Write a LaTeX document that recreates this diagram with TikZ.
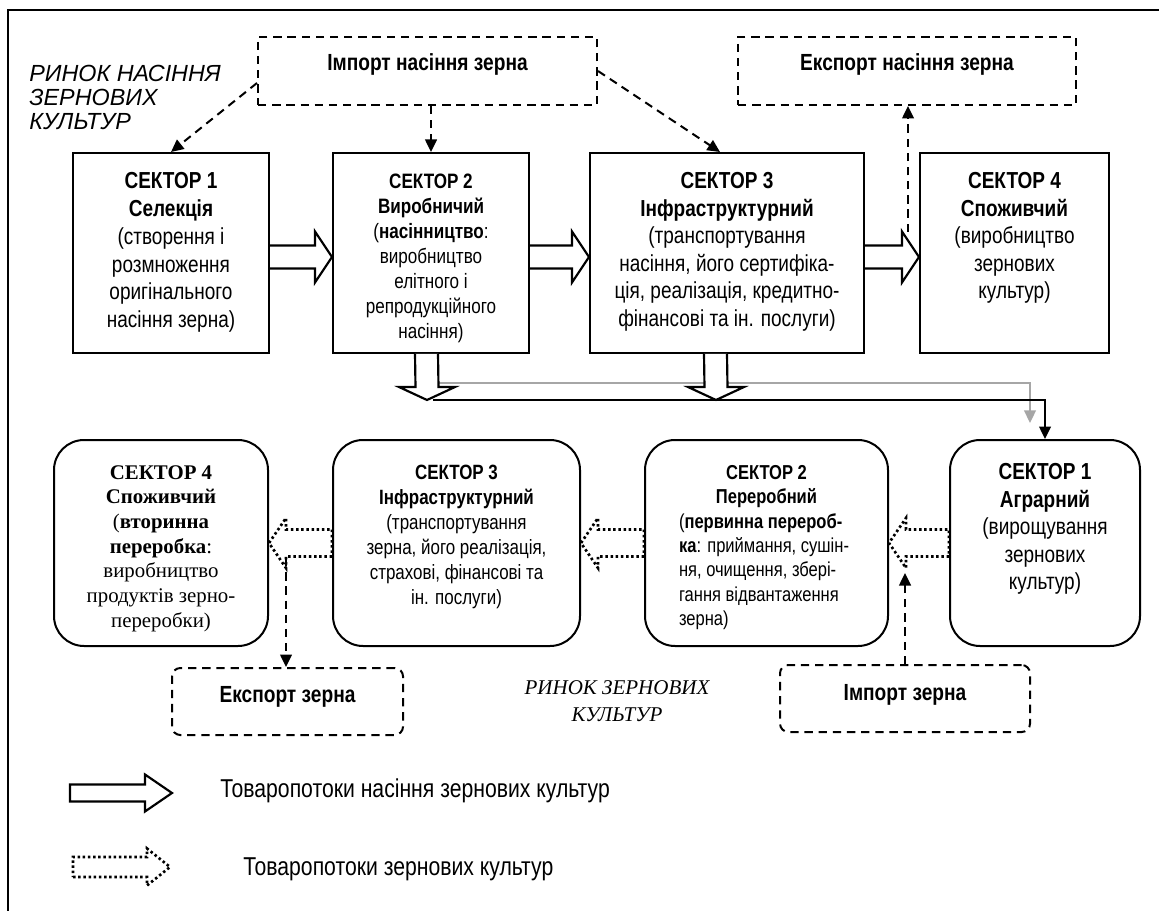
\documentclass[tikz,border=0pt]{standalone}
\usepackage{fontspec}
\setmainfont{Liberation Sans}
\newfontfamily\narrowfont{Liberation Sans}[FakeStretch=0.82]
\newfontfamily\timesfont{Liberation Serif}
\usepackage{xcolor}
\usepackage{tikz}
\usetikzlibrary{calc}
\usetikzlibrary{arrows.meta}
\definecolor{C7}{HTML}{A6A6A6}
\newcommand{\flowh}[7]{\draw[#1] ($(#2)+(0,#4)$) -- ($(#3)+(#6,#4)$) -- ($(#3)+(#6,#5)$) -- (#3) -- ($(#3)+(#6,-#5)$) -- ($(#3)+(#6,-#4)$) -- ($(#2)+(0,-#4)$) #7;}
\newcommand{\flowv}[7]{\draw[#1] ($(#2)+(#4,0)$) -- ($(#3)+(#4,#6)$) -- ($(#3)+(#5,#6)$) -- (#3) -- ($(#3)+(-#5,#6)$) -- ($(#3)+(-#4,#6)$) -- ($(#2)+(-#4,0)$) #7;}

\begin{document}
\begin{tikzpicture}[x=0.6pt, y=-0.6pt, >={Triangle[length=7.5pt,width=7pt]},
  sbox/.style={draw, line width=1.2pt, inner sep=0pt},
  rbox/.style={sbox, rounded corners=18pt},
  dbox/.style={draw, line width=1.2pt, dash pattern=on 5pt off 3.5pt, inner sep=0pt, font=\narrowfont\fontsize{14}{16}\selectfont\bfseries},
  txt/.style={align=center, inner sep=0pt, anchor=north},
  dline/.style={->, line width=1.2pt, dash pattern=on 5pt off 3.5pt},
  hollow/.style={line width=1.3pt},
  dotline/.style={line width=1.6pt, dash pattern=on 1.5pt off 1.6pt}]
\useasboundingbox (0,0) rectangle (1159,911);
\draw[line width=1.2pt] (8,911) -- (8,10) -- (1159,10);

\node[anchor=north west, align=left, inner sep=0pt, font=\fontsize{14}{14.4}\selectfont\itshape] (title) at (29,65) {РИНОК НАСІННЯ\\ЗЕРНОВИХ\\КУЛЬТУР};
\node[dbox, minimum width=203.4pt, minimum height=40.8pt, text depth=11pt] (imps) at (427.5,71) {Імпорт насіння зерна};
\node[dbox, minimum width=202.8pt, minimum height=40.8pt, text depth=11pt] (exps) at (907,71) {Експорт насіння зерна};

\node[sbox, minimum width=117.6pt, minimum height=120pt] (s1) at (171,253) {};
\node[sbox, minimum width=117.6pt, minimum height=120pt] (s2) at (431,253) {};
\node[sbox, minimum width=164.4pt, minimum height=120pt] (s3) at (727,253) {};
\node[sbox, minimum width=113.4pt, minimum height=120pt] (s4) at (1014.5,253) {};
\node[txt, font=\narrowfont\fontsize{13.9}{16.7}\selectfont] (s1t) at (171,172) {\textbf{СЕКТОР 1}\\\textbf{Селекція}\\(створення і\\розмноження\\оригінального\\насіння зерна)};
\node[txt, font=\narrowfont\fontsize{12.5}{15}\selectfont] (s2t) at (431,174) {\textbf{СЕКТОР 2}\\\textbf{Виробничий}\\(\textbf{насінництво}:\\виробництво\\елітного і\\репродукційного\\насіння)};
\node[txt, font=\narrowfont\fontsize{13.9}{16.5}\selectfont] (s3t) at (727,172) {\textbf{СЕКТОР 3}\\\textbf{Інфраструктурний}\\(транспортування\\насіння, його сертифіка-\\ція, реалізація, кредитно-\\фінансові та ін. послуги)};
\node[txt, font=\narrowfont\fontsize{13.9}{16.5}\selectfont] (s4t) at (1014.5,172) {\textbf{СЕКТОР 4}\\\textbf{Споживчий}\\(виробництво\\зернових\\культур)};

\node[rbox, minimum width=128.4pt, minimum height=123.6pt] (l4) at (161,543) {};
\node[rbox, minimum width=148.2pt, minimum height=123.6pt] (l3) at (456.5,543) {};
\node[rbox, minimum width=145.8pt, minimum height=123.6pt] (l2) at (766.5,543) {};
\node[rbox, minimum width=114pt, minimum height=123.6pt] (l1) at (1045,543) {};
\node[txt, font=\timesfont\fontsize{12.5}{14.8}\selectfont] (l4t) at (161,465) {\textbf{СЕКТОР 4}\\\textbf{Споживчий}\\(\textbf{вторинна}\\\textbf{переробка}:\\виробництво\\продуктів зерно-\\переробки)};
\node[txt, font=\narrowfont\fontsize{12.4}{15}\selectfont] (l3t) at (456.5,465) {\textbf{СЕКТОР 3}\\\textbf{Інфраструктурний}\\(транспортування\\зерна, його реалізація,\\страхові, фінансові та\\ін. послуги)};
\node[txt, font=\narrowfont\fontsize{12.1}{14.6}\selectfont] (l2t) at (766.5,465) {\textbf{СЕКТОР 2}\\\textbf{Переробний}\\\makebox[105pt][l]{(\textbf{первинна перероб-}}\\\makebox[105pt][l]{\textbf{ка}: приймання, сушін-}\\\makebox[105pt][l]{ня, очищення, збері-}\\\makebox[105pt][l]{гання відвантаження}\\\makebox[105pt][l]{зерна)}};
\node[txt, font=\narrowfont\fontsize{13.9}{16.5}\selectfont] (l1t) at (1045,463) {\textbf{СЕКТОР 1}\\\textbf{Аграрний}\\(вирощування\\зернових\\культур)};

\node[dbox, rounded corners=5pt, minimum width=138.6pt, minimum height=40.2pt, text depth=8pt] (expg) at (287.5,701.5) {Експорт зерна};
\node[dbox, rounded corners=5pt, minimum width=150pt, minimum height=40.2pt, text depth=7pt] (impg) at (905,698.5) {Імпорт зерна};
\node[align=center, inner sep=0pt, font=\timesfont\itshape\fontsize{12.6}{16}\selectfont] (rzk) at (617,701) {РИНОК ЗЕРНОВИХ\\КУЛЬТУР};

\draw[dline] ([yshift=-7.2pt]imps.west) -- (s1.north);
\draw[dline] (imps.south -| s2.north) -- (s2.north);
\draw[dline] (imps.east) -- ([xshift=-4.2pt]s3.north);
\coordinate (e4) at (908,232);
\draw[dline] (e4) -- (e4 |- exps.south);

\coordinate (a1) at ([yshift=-2.4pt]s1.east);
\coordinate (a2) at ([yshift=-2.4pt]s2.west);
\coordinate (a3) at ([yshift=-2.4pt]s2.east);
\coordinate (a4) at ([yshift=-2.4pt]s3.west);
\coordinate (a5) at ([yshift=-2.4pt]s3.east);
\coordinate (a6) at ([yshift=-2.4pt]s4.west);
\flowh{hollow}{a1}{a2}{11.5}{25.5}{-17}{}
\flowh{hollow}{a3}{a4}{11.5}{25.5}{-17}{}
\flowh{hollow}{a5}{a6}{11.5}{25.5}{-17}{}

\coordinate (g0) at (418,383);
\coordinate (g1) at (1030,423);
\draw[->, C7, line width=1pt] (g0) -| (g1);
\coordinate (b0) at (433,400);
\draw[->, line width=1.2pt] (b0) -| (l1.north);

\coordinate (d1) at ([xshift=-2.7pt]s2.south);
\coordinate (d2) at (427,400);
\coordinate (d3) at ([xshift=-6.9pt]s3.south);
\coordinate (d4) at (716,400);
\flowv{hollow, fill=white}{d1}{d2}{11.5}{28}{-13}{}
\flowv{hollow, fill=white}{d3}{d4}{11.5}{28}{-13}{}

\flowh{dotline}{l2.west}{l3.east}{13.5}{25}{17}{-- cycle}
\flowh{dotline}{l3.west}{l4.east}{13.5}{25}{17}{-- cycle}
\flowh{dotline}{l1.west}{l2.east}{13.5}{25}{17}{-- cycle}

\coordinate (eg) at (286,558);
\draw[dline] (eg) -- (eg |- expg.north);
\coordinate (ig) at (905,573);
\draw[dline] (impg.north) -- (ig);

\coordinate (lg1) at (70,793);
\coordinate (lg2) at (172,793);
\flowh{hollow}{lg1}{lg2}{8.5}{18.5}{-27}{-- cycle}
\node[anchor=west, inner sep=0pt, font=\narrowfont\fontsize{15.5}{17}\selectfont] (lg1t) at (220,791) {Товаропотоки насіння зернових культур};
\coordinate (lg3) at (73,867);
\coordinate (lg4) at (170,867);
\flowh{dotline}{lg3}{lg4}{10}{18.5}{-23}{-- cycle}
\node[anchor=west, inner sep=0pt, font=\narrowfont\fontsize{15.5}{17}\selectfont] (lg2t) at (243,869) {Товаропотоки зернових культур};
\end{tikzpicture}
\end{document}
